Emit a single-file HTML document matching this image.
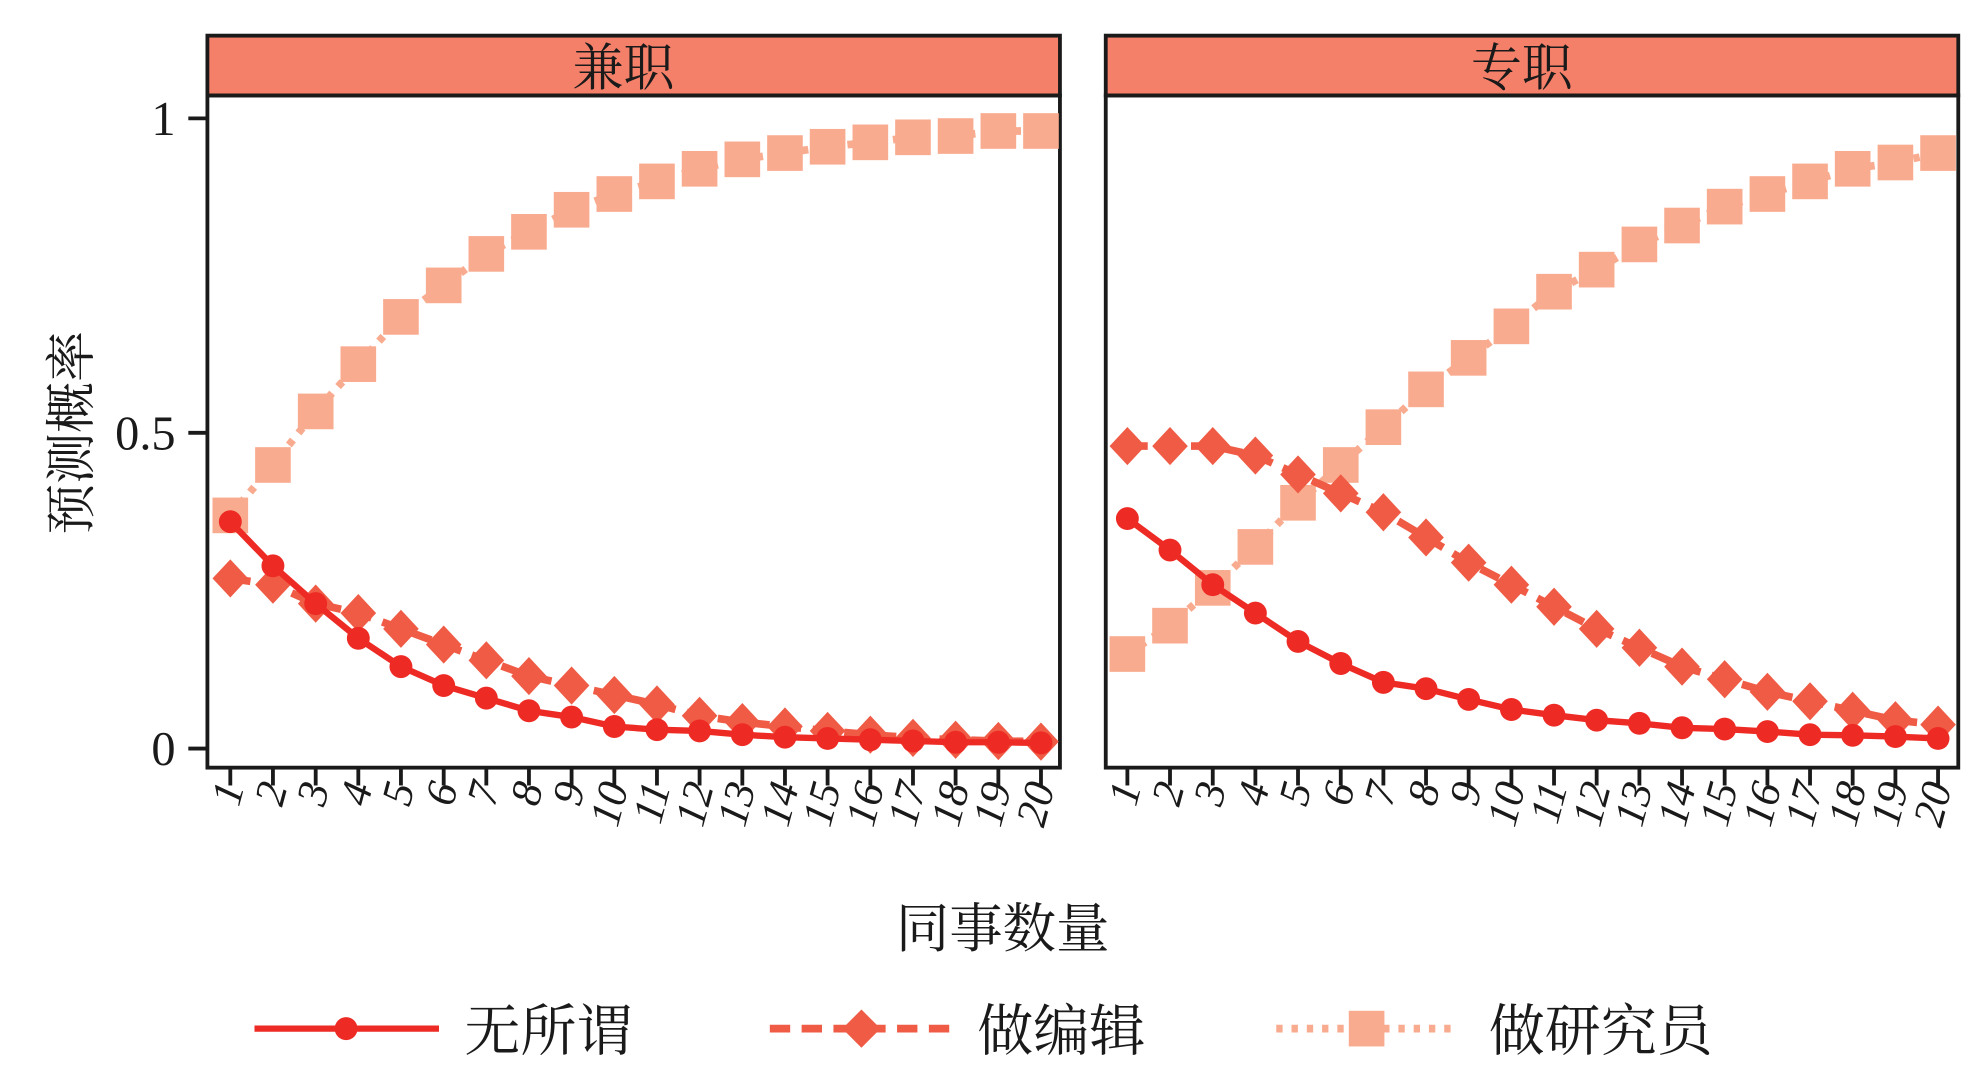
<!DOCTYPE html>
<html><head><meta charset="utf-8"><style>
html,body{margin:0;padding:0;background:#fff;}
svg{display:block;}
text{font-family:"Liberation Serif","Noto Serif CJK SC",serif;fill:#1a1a1a;}
</style></head><body>
<svg width="1985" height="1077" viewBox="0 0 1560 846" preserveAspectRatio="none" xmlns="http://www.w3.org/2000/svg">
<rect x="0" y="0" width="1560" height="846" fill="#fff"/>
<rect x="163" y="28" width="670" height="47" fill="#f4806a" stroke="#1a1a1a" stroke-width="3"/>
<rect x="869" y="28" width="670" height="47" fill="#f4806a" stroke="#1a1a1a" stroke-width="3"/>
<text x="490" y="67" font-size="40" text-anchor="middle">兼职</text>
<text x="1196" y="67" font-size="40" text-anchor="middle">专职</text>
<rect x="163" y="75" width="670" height="528" fill="none" stroke="#1a1a1a" stroke-width="3"/>
<rect x="869" y="75" width="670" height="528" fill="none" stroke="#1a1a1a" stroke-width="3"/>

<!-- left panel series -->
<polyline points="181,404.85 214.5,365.25 248.1,323.18 281.6,286.05 315.1,248.93 348.7,224.18 382.2,199.43 415.7,182.1 449.2,164.78 482.8,152.4 516.3,142.5 549.8,132.6 583.4,125.18 616.9,120.23 650.4,115.28 684,111.81 717.5,107.85 751,106.86 784.6,102.9 818.1,102.9" fill="none" stroke="#f9ab8f" stroke-width="6" stroke-dasharray="5,7"/>
<g fill="#f9ab8f">
<rect x="167" y="390.85" width="28" height="28"/><rect x="200.5" y="351.25" width="28" height="28"/><rect x="234.1" y="309.18" width="28" height="28"/><rect x="267.6" y="272.05" width="28" height="28"/><rect x="301.1" y="234.93" width="28" height="28"/><rect x="334.7" y="210.18" width="28" height="28"/><rect x="368.2" y="185.43" width="28" height="28"/><rect x="401.7" y="168.1" width="28" height="28"/><rect x="435.2" y="150.78" width="28" height="28"/><rect x="468.8" y="138.4" width="28" height="28"/><rect x="502.3" y="128.5" width="28" height="28"/><rect x="535.8" y="118.6" width="28" height="28"/><rect x="569.4" y="111.18" width="28" height="28"/><rect x="602.9" y="106.23" width="28" height="28"/><rect x="636.4" y="101.28" width="28" height="28"/><rect x="670" y="97.81" width="28" height="28"/><rect x="703.5" y="93.85" width="28" height="28"/><rect x="737" y="92.86" width="28" height="28"/><rect x="770.6" y="88.9" width="28" height="28"/><rect x="804.1" y="88.9" width="28" height="28"/>
</g>
<polyline points="181,454.35 214.5,459.3 248.1,474.15 281.6,481.58 315.1,493.95 348.7,506.33 382.2,518.7 415.7,531.08 449.2,538.5 482.8,545.93 516.3,553.35 549.8,562.26 583.4,567.21 616.9,570.68 650.4,574.14 684,577.11 717.5,579.59 751,581.07 784.6,582.06 818.1,582.56" fill="none" stroke="#ef5b45" stroke-width="6" stroke-dasharray="16,9"/>
<g fill="#ef5b45">
<polygon points="181,439.35 195,454.35 181,469.35 167,454.35"/><polygon points="214.5,444.3 228.5,459.3 214.5,474.3 200.5,459.3"/><polygon points="248.1,459.15 262.1,474.15 248.1,489.15 234.1,474.15"/><polygon points="281.6,466.58 295.6,481.58 281.6,496.58 267.6,481.58"/><polygon points="315.1,478.95 329.1,493.95 315.1,508.95 301.1,493.95"/><polygon points="348.7,491.33 362.7,506.33 348.7,521.33 334.7,506.33"/><polygon points="382.2,503.7 396.2,518.7 382.2,533.7 368.2,518.7"/><polygon points="415.7,516.08 429.7,531.08 415.7,546.08 401.7,531.08"/><polygon points="449.2,523.5 463.2,538.5 449.2,553.5 435.2,538.5"/><polygon points="482.8,530.93 496.8,545.93 482.8,560.93 468.8,545.93"/><polygon points="516.3,538.35 530.3,553.35 516.3,568.35 502.3,553.35"/><polygon points="549.8,547.26 563.8,562.26 549.8,577.26 535.8,562.26"/><polygon points="583.4,552.21 597.4,567.21 583.4,582.21 569.4,567.21"/><polygon points="616.9,555.68 630.9,570.68 616.9,585.68 602.9,570.68"/><polygon points="650.4,559.14 664.4,574.14 650.4,589.14 636.4,574.14"/><polygon points="684,562.11 698,577.11 684,592.11 670,577.11"/><polygon points="717.5,564.59 731.5,579.59 717.5,594.59 703.5,579.59"/><polygon points="751,566.07 765,581.07 751,596.07 737,581.07"/><polygon points="784.6,567.06 798.6,582.06 784.6,597.06 770.6,582.06"/><polygon points="818.1,567.56 832.1,582.56 818.1,597.56 804.1,582.56"/>
</g>
<polyline points="181,409.8 214.5,444.45 248.1,474.15 281.6,501.38 315.1,523.65 348.7,538.5 382.2,548.4 415.7,558.3 449.2,563.25 482.8,570.68 516.3,573.15 549.8,574.14 583.4,577.11 616.9,579.09 650.4,580.08 684,581.07 717.5,582.06 751,583.05 784.6,583.05 818.1,583.55" fill="none" stroke="#ee2a24" stroke-width="5"/>
<g fill="#ee2a24">
<circle cx="181" cy="409.8" r="9"/><circle cx="214.5" cy="444.45" r="9"/><circle cx="248.1" cy="474.15" r="9"/><circle cx="281.6" cy="501.38" r="9"/><circle cx="315.1" cy="523.65" r="9"/><circle cx="348.7" cy="538.5" r="9"/><circle cx="382.2" cy="548.4" r="9"/><circle cx="415.7" cy="558.3" r="9"/><circle cx="449.2" cy="563.25" r="9"/><circle cx="482.8" cy="570.68" r="9"/><circle cx="516.3" cy="573.15" r="9"/><circle cx="549.8" cy="574.14" r="9"/><circle cx="583.4" cy="577.11" r="9"/><circle cx="616.9" cy="579.09" r="9"/><circle cx="650.4" cy="580.08" r="9"/><circle cx="684" cy="581.07" r="9"/><circle cx="717.5" cy="582.06" r="9"/><circle cx="751" cy="583.05" r="9"/><circle cx="784.6" cy="583.05" r="9"/><circle cx="818.1" cy="583.55" r="9"/>
</g>

<!-- right panel series -->
<polyline points="886,513.75 919.5,491.48 953.1,461.78 986.6,429.6 1020.1,394.95 1053.7,365.25 1087.2,335.55 1120.7,305.85 1154.2,281.1 1187.8,256.35 1221.3,229.13 1254.8,211.8 1288.4,192 1321.9,177.15 1355.4,162.3 1389,152.4 1422.5,142.5 1456,132.6 1489.6,127.65 1523.1,120.23" fill="none" stroke="#f9ab8f" stroke-width="6" stroke-dasharray="5,7"/>
<g fill="#f9ab8f">
<rect x="872" y="499.75" width="28" height="28"/><rect x="905.5" y="477.48" width="28" height="28"/><rect x="939.1" y="447.78" width="28" height="28"/><rect x="972.6" y="415.6" width="28" height="28"/><rect x="1006.1" y="380.95" width="28" height="28"/><rect x="1039.7" y="351.25" width="28" height="28"/><rect x="1073.2" y="321.55" width="28" height="28"/><rect x="1106.7" y="291.85" width="28" height="28"/><rect x="1140.2" y="267.1" width="28" height="28"/><rect x="1173.8" y="242.35" width="28" height="28"/><rect x="1207.3" y="215.13" width="28" height="28"/><rect x="1240.8" y="197.8" width="28" height="28"/><rect x="1274.4" y="178" width="28" height="28"/><rect x="1307.9" y="163.15" width="28" height="28"/><rect x="1341.4" y="148.3" width="28" height="28"/><rect x="1375" y="138.4" width="28" height="28"/><rect x="1408.5" y="128.5" width="28" height="28"/><rect x="1442" y="118.6" width="28" height="28"/><rect x="1475.6" y="113.65" width="28" height="28"/><rect x="1509.1" y="106.23" width="28" height="28"/>
</g>
<polyline points="886,350.4 919.5,350.4 953.1,350.4 986.6,357.83 1020.1,372.68 1053.7,387.53 1087.2,402.38 1120.7,422.18 1154.2,441.98 1187.8,459.3 1221.3,476.63 1254.8,493.95 1288.4,508.8 1321.9,523.65 1355.4,533.55 1389,543.45 1422.5,550.88 1456,558.3 1489.6,565.73 1523.1,569.19" fill="none" stroke="#ef5b45" stroke-width="6" stroke-dasharray="16,9"/>
<g fill="#ef5b45">
<polygon points="886,335.4 900,350.4 886,365.4 872,350.4"/><polygon points="919.5,335.4 933.5,350.4 919.5,365.4 905.5,350.4"/><polygon points="953.1,335.4 967.1,350.4 953.1,365.4 939.1,350.4"/><polygon points="986.6,342.83 1000.6,357.83 986.6,372.83 972.6,357.83"/><polygon points="1020.1,357.68 1034.1,372.68 1020.1,387.68 1006.1,372.68"/><polygon points="1053.7,372.53 1067.7,387.53 1053.7,402.53 1039.7,387.53"/><polygon points="1087.2,387.38 1101.2,402.38 1087.2,417.38 1073.2,402.38"/><polygon points="1120.7,407.18 1134.7,422.18 1120.7,437.18 1106.7,422.18"/><polygon points="1154.2,426.98 1168.2,441.98 1154.2,456.98 1140.2,441.98"/><polygon points="1187.8,444.3 1201.8,459.3 1187.8,474.3 1173.8,459.3"/><polygon points="1221.3,461.63 1235.3,476.63 1221.3,491.63 1207.3,476.63"/><polygon points="1254.8,478.95 1268.8,493.95 1254.8,508.95 1240.8,493.95"/><polygon points="1288.4,493.8 1302.4,508.8 1288.4,523.8 1274.4,508.8"/><polygon points="1321.9,508.65 1335.9,523.65 1321.9,538.65 1307.9,523.65"/><polygon points="1355.4,518.55 1369.4,533.55 1355.4,548.55 1341.4,533.55"/><polygon points="1389,528.45 1403,543.45 1389,558.45 1375,543.45"/><polygon points="1422.5,535.88 1436.5,550.88 1422.5,565.88 1408.5,550.88"/><polygon points="1456,543.3 1470,558.3 1456,573.3 1442,558.3"/><polygon points="1489.6,550.73 1503.6,565.73 1489.6,580.73 1475.6,565.73"/><polygon points="1523.1,554.19 1537.1,569.19 1523.1,584.19 1509.1,569.19"/>
</g>
<polyline points="886,407.33 919.5,432.08 953.1,459.3 986.6,481.58 1020.1,503.85 1053.7,521.18 1087.2,536.03 1120.7,540.98 1154.2,549.39 1187.8,557.31 1221.3,561.77 1254.8,565.73 1288.4,568.2 1321.9,571.67 1355.4,572.66 1389,574.64 1422.5,577.11 1456,577.61 1489.6,578.6 1523.1,580.08" fill="none" stroke="#ee2a24" stroke-width="5"/>
<g fill="#ee2a24">
<circle cx="886" cy="407.33" r="9"/><circle cx="919.5" cy="432.08" r="9"/><circle cx="953.1" cy="459.3" r="9"/><circle cx="986.6" cy="481.58" r="9"/><circle cx="1020.1" cy="503.85" r="9"/><circle cx="1053.7" cy="521.18" r="9"/><circle cx="1087.2" cy="536.03" r="9"/><circle cx="1120.7" cy="540.98" r="9"/><circle cx="1154.2" cy="549.39" r="9"/><circle cx="1187.8" cy="557.31" r="9"/><circle cx="1221.3" cy="561.77" r="9"/><circle cx="1254.8" cy="565.73" r="9"/><circle cx="1288.4" cy="568.2" r="9"/><circle cx="1321.9" cy="571.67" r="9"/><circle cx="1355.4" cy="572.66" r="9"/><circle cx="1389" cy="574.64" r="9"/><circle cx="1422.5" cy="577.11" r="9"/><circle cx="1456" cy="577.61" r="9"/><circle cx="1489.6" cy="578.6" r="9"/><circle cx="1523.1" cy="580.08" r="9"/>
</g>

<!-- y axis -->
<g stroke="#1a1a1a" stroke-width="3">
<line x1="148" y1="93" x2="163" y2="93"/><line x1="148" y1="340" x2="163" y2="340"/><line x1="148" y1="588" x2="163" y2="588"/>
</g>
<text x="138" y="106" font-size="38" text-anchor="end">1</text>
<text x="138" y="353" font-size="38" text-anchor="end">0.5</text>
<text x="138" y="601" font-size="38" text-anchor="end">0</text>
<text transform="translate(70,340) rotate(-90)" font-size="40" text-anchor="middle">预测概率</text>

<!-- x ticks -->
<g stroke="#1a1a1a" stroke-width="3">
<line x1="181" y1="603" x2="181" y2="617"/><line x1="214.5" y1="603" x2="214.5" y2="617"/><line x1="248.1" y1="603" x2="248.1" y2="617"/><line x1="281.6" y1="603" x2="281.6" y2="617"/><line x1="315.1" y1="603" x2="315.1" y2="617"/><line x1="348.7" y1="603" x2="348.7" y2="617"/><line x1="382.2" y1="603" x2="382.2" y2="617"/><line x1="415.7" y1="603" x2="415.7" y2="617"/><line x1="449.2" y1="603" x2="449.2" y2="617"/><line x1="482.8" y1="603" x2="482.8" y2="617"/><line x1="516.3" y1="603" x2="516.3" y2="617"/><line x1="549.8" y1="603" x2="549.8" y2="617"/><line x1="583.4" y1="603" x2="583.4" y2="617"/><line x1="616.9" y1="603" x2="616.9" y2="617"/><line x1="650.4" y1="603" x2="650.4" y2="617"/><line x1="684" y1="603" x2="684" y2="617"/><line x1="717.5" y1="603" x2="717.5" y2="617"/><line x1="751" y1="603" x2="751" y2="617"/><line x1="784.6" y1="603" x2="784.6" y2="617"/><line x1="818.1" y1="603" x2="818.1" y2="617"/>
<line x1="886" y1="603" x2="886" y2="617"/><line x1="919.5" y1="603" x2="919.5" y2="617"/><line x1="953.1" y1="603" x2="953.1" y2="617"/><line x1="986.6" y1="603" x2="986.6" y2="617"/><line x1="1020.1" y1="603" x2="1020.1" y2="617"/><line x1="1053.7" y1="603" x2="1053.7" y2="617"/><line x1="1087.2" y1="603" x2="1087.2" y2="617"/><line x1="1120.7" y1="603" x2="1120.7" y2="617"/><line x1="1154.2" y1="603" x2="1154.2" y2="617"/><line x1="1187.8" y1="603" x2="1187.8" y2="617"/><line x1="1221.3" y1="603" x2="1221.3" y2="617"/><line x1="1254.8" y1="603" x2="1254.8" y2="617"/><line x1="1288.4" y1="603" x2="1288.4" y2="617"/><line x1="1321.9" y1="603" x2="1321.9" y2="617"/><line x1="1355.4" y1="603" x2="1355.4" y2="617"/><line x1="1389" y1="603" x2="1389" y2="617"/><line x1="1422.5" y1="603" x2="1422.5" y2="617"/><line x1="1456" y1="603" x2="1456" y2="617"/><line x1="1489.6" y1="603" x2="1489.6" y2="617"/><line x1="1523.1" y1="603" x2="1523.1" y2="617"/>
</g>
<g font-size="34" font-style="italic" text-anchor="end">
<text transform="translate(192,618) rotate(-75)">1</text>
<text transform="translate(226,618) rotate(-75)">2</text>
<text transform="translate(259,618) rotate(-75)">3</text>
<text transform="translate(293,618) rotate(-75)">4</text>
<text transform="translate(326,618) rotate(-75)">5</text>
<text transform="translate(360,618) rotate(-75)">6</text>
<text transform="translate(393,618) rotate(-75)">7</text>
<text transform="translate(427,618) rotate(-75)">8</text>
<text transform="translate(460,618) rotate(-75)">9</text>
<text transform="translate(494,618) rotate(-75)">10</text>
<text transform="translate(527,618) rotate(-75)">11</text>
<text transform="translate(561,618) rotate(-75)">12</text>
<text transform="translate(594,618) rotate(-75)">13</text>
<text transform="translate(628,618) rotate(-75)">14</text>
<text transform="translate(661,618) rotate(-75)">15</text>
<text transform="translate(695,618) rotate(-75)">16</text>
<text transform="translate(728,618) rotate(-75)">17</text>
<text transform="translate(762,618) rotate(-75)">18</text>
<text transform="translate(795,618) rotate(-75)">19</text>
<text transform="translate(829,618) rotate(-75)">20</text>
<text transform="translate(897,618) rotate(-75)">1</text>
<text transform="translate(931,618) rotate(-75)">2</text>
<text transform="translate(964,618) rotate(-75)">3</text>
<text transform="translate(998,618) rotate(-75)">4</text>
<text transform="translate(1031,618) rotate(-75)">5</text>
<text transform="translate(1065,618) rotate(-75)">6</text>
<text transform="translate(1098,618) rotate(-75)">7</text>
<text transform="translate(1132,618) rotate(-75)">8</text>
<text transform="translate(1165,618) rotate(-75)">9</text>
<text transform="translate(1199,618) rotate(-75)">10</text>
<text transform="translate(1232,618) rotate(-75)">11</text>
<text transform="translate(1266,618) rotate(-75)">12</text>
<text transform="translate(1299,618) rotate(-75)">13</text>
<text transform="translate(1333,618) rotate(-75)">14</text>
<text transform="translate(1366,618) rotate(-75)">15</text>
<text transform="translate(1400,618) rotate(-75)">16</text>
<text transform="translate(1433,618) rotate(-75)">17</text>
<text transform="translate(1467,618) rotate(-75)">18</text>
<text transform="translate(1500,618) rotate(-75)">19</text>
<text transform="translate(1534,618) rotate(-75)">20</text>
</g>
<text x="788" y="744" font-size="42" text-anchor="middle">同事数量</text>

<!-- legend -->
<line x1="200" y1="808" x2="345" y2="808" stroke="#ee2a24" stroke-width="5"/>
<circle cx="272" cy="808" r="9" fill="#ee2a24"/>
<text x="365" y="825" font-size="44">无所谓</text>
<line x1="605" y1="808" x2="748" y2="808" stroke="#ef5b45" stroke-width="6" stroke-dasharray="16,9"/>
<polygon points="677,793 692,808 677,823 662,808" fill="#ef5b45"/>
<text x="768" y="825" font-size="44">做编辑</text>
<line x1="1003" y1="808" x2="1145" y2="808" stroke="#f9ab8f" stroke-width="6" stroke-dasharray="5,7"/>
<rect x="1060" y="794" width="28" height="28" fill="#f9ab8f"/>
<text x="1170" y="825" font-size="44">做研究员</text>
</svg>
</body></html>
